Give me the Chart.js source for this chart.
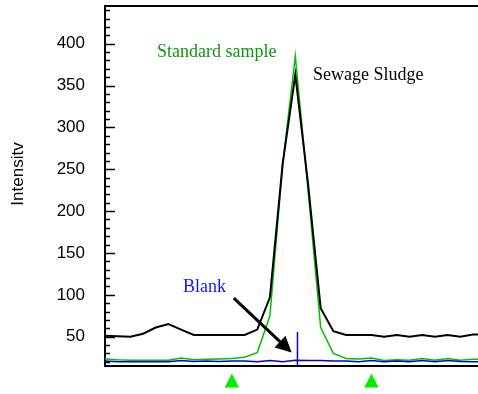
<!DOCTYPE html>
<html lang="en">
<head>
  <meta charset="UTF-8">
  <title>Intensity</title>
  <script src="https://cdn.jsdelivr.net/npm/chart.js"></script>
  <style>
    html, body { margin: 0; padding: 0; background: #fff; }
    canvas { display: block; }
  </style>
</head>
<body>
  <canvas id="chart" width="478" height="394"></canvas>

  <script>
    // scan positions along x (no labels on this axis)
    const scanIndex = [0,1,2,3,4,5,6,7,8,9,10,11,12,13,14,15,16,17,18,19,20,21,22,23,24,25,26,27,28,29,30];
    const sewageSludge = [51,50.5,50,53.5,61,65,58.5,52,52,52,52,52,58.5,97,256,363,233,84,56.5,52,52,52,50,52,50,52,50,52,50,52.5,53];
    const standardSample = [23.5,22.5,22,22,22,22,24.5,22.5,23,23.5,24,25.5,31,75,255,385,226,61,30,24,23.5,24.5,21.5,22.5,22,24,22,24,22,23,23];
    const blank = [21,20,20,20,20,20,21.5,20.5,21,20.5,21,21,20,21.5,20,22,21.5,21.5,21,21,20,21.5,20,21,20,21.5,20,21.5,20.5,20,20];
    const yTicks = [50,100,150,200,250,300,350,400];
    const blankCursorX = [15.17, 15.17];
    const blankCursorY = [55.5, 15];
    const markerIndex = [10, 21];
    const markerValue = -4;

    const pts = (xs, ys) => xs.map((x, i) => ({ x: x, y: ys[i] }));

    const extras = {
      id: 'extras',
      afterDraw(chart) {
        const ctx = chart.ctx;
        const xs = chart.scales.x, ys = chart.scales.y;
        const a = chart.chartArea;
        ctx.save();

        // top frame line
        ctx.strokeStyle = '#000';
        ctx.lineWidth = 2;
        ctx.beginPath();
        ctx.moveTo(a.left, a.top);
        ctx.lineTo(a.right, a.top);
        ctx.stroke();

        // inward ticks on the y axis (major every 50, minor every 10)
        ctx.lineWidth = 1.5;
        for (let v = 20; v <= 440; v += 10) {
          const y = Math.round(ys.getPixelForValue(v)) + 0.5;
          const len = v % 50 === 0 ? 10 : 5;
          ctx.beginPath();
          ctx.moveTo(a.left, y);
          ctx.lineTo(a.left + len, y);
          ctx.stroke();
        }

        // y title
        ctx.save();
        ctx.translate(18, 174);
        ctx.rotate(-Math.PI / 2);
        ctx.fillStyle = '#000';
        ctx.font = '17px "Liberation Sans", Arial, sans-serif';
        ctx.textAlign = 'center';
        ctx.textBaseline = 'middle';
        ctx.fillText('Intensitv', 0, 0);
        ctx.restore();

        // series labels
        ctx.font = '18px "Liberation Serif", "Times New Roman", serif';
        ctx.textAlign = 'left';
        ctx.textBaseline = 'alphabetic';
        ctx.fillStyle = '#119611';
        ctx.fillText('Standard sample', xs.getPixelForValue(4.1), ys.getPixelForValue(384));
        ctx.fillStyle = '#000';
        ctx.fillText('Sewage Sludge', xs.getPixelForValue(16.4), ys.getPixelForValue(356.5));
        ctx.fillStyle = '#1414ff';
        ctx.fillText('Blank', xs.getPixelForValue(6.15), ys.getPixelForValue(103));

        // arrow pointing at the blank trace
        const x1 = xs.getPixelForValue(10.15), y1 = ys.getPixelForValue(96);
        const x2 = xs.getPixelForValue(14.71), y2 = ys.getPixelForValue(31);
        const ang = Math.atan2(y2 - y1, x2 - x1);
        const head = 16, half = 8;
        const bx = x2 - head * Math.cos(ang), by = y2 - head * Math.sin(ang);
        ctx.strokeStyle = '#000';
        ctx.fillStyle = '#000';
        ctx.lineWidth = 3;
        ctx.beginPath();
        ctx.moveTo(x1, y1);
        ctx.lineTo(bx, by);
        ctx.stroke();
        ctx.beginPath();
        ctx.moveTo(x2, y2);
        ctx.lineTo(bx + half * Math.sin(ang), by - half * Math.cos(ang));
        ctx.lineTo(bx - half * Math.sin(ang), by + half * Math.cos(ang));
        ctx.closePath();
        ctx.fill();

        // green markers under the axis
        ctx.fillStyle = '#00ee00';
        markerIndex.forEach(i => {
          const cx = xs.getPixelForValue(i), cy = ys.getPixelForValue(markerValue);
          ctx.beginPath();
          ctx.moveTo(cx, cy - 8.5);
          ctx.lineTo(cx + 7.2, cy + 5.5);
          ctx.lineTo(cx - 7.2, cy + 5.5);
          ctx.closePath();
          ctx.fill();
        });

        ctx.restore();
      }
    };

    new Chart(document.getElementById('chart'), {
      type: 'line',
      data: {
        datasets: [
          { label: 'Sewage Sludge', data: pts(scanIndex, sewageSludge), borderColor: '#000', borderWidth: 2 },
          { label: 'Blank', data: pts(scanIndex, blank), borderColor: '#0000dd', borderWidth: 1.5 },
          { label: 'Blank cursor', data: pts(blankCursorX, blankCursorY), borderColor: '#0000dd', borderWidth: 1.5 },
          { label: 'Standard sample', data: pts(scanIndex, standardSample), borderColor: '#00c000', borderWidth: 1.5 }
        ]
      },
      options: {
        responsive: false,
        animation: false,
        events: [],
        layout: { padding: { top: 6, right: 0, bottom: 28, left: 0 } },
        elements: {
          line: { tension: 0, fill: false },
          point: { radius: 0 }
        },
        plugins: {
          legend: { display: false },
          tooltip: { enabled: false }
        },
        scales: {
          x: {
            type: 'linear',
            min: 0,
            max: 29.4,
            ticks: { display: false },
            grid: { display: false },
            border: { display: true, color: '#000', width: 2 },
            afterFit: s => { s.height = 0; s.paddingLeft = 0; s.paddingRight = 0; }
          },
          y: {
            min: 15,
            max: 445,
            afterBuildTicks: s => { s.ticks = yTicks.map(v => ({ value: v })); },
            ticks: {
              color: '#000',
              padding: 12,
              font: { family: '"Liberation Sans", Arial, sans-serif', size: 17 }
            },
            grid: { display: false },
            border: { display: true, color: '#000', width: 2 },
            afterFit: s => { s.width = 105; s.paddingTop = 0; s.paddingBottom = 0; }
          }
        }
      },
      plugins: [extras]
    });
  </script>
</body>
</html>
